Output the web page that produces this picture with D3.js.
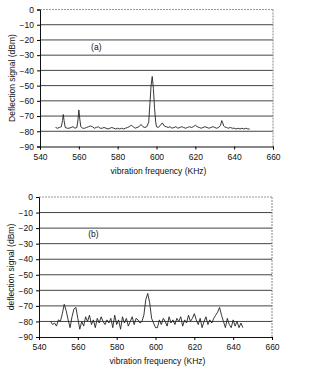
<!DOCTYPE html>
<html>
<head>
<meta charset="utf-8">
<script src="https://cdn.jsdelivr.net/npm/d3@7"></script>
<style>
  body { margin: 0; background: #fff; }
  svg { display: block; font-family: "Liberation Sans", Arial, sans-serif; }
</style>
</head>
<body>
<svg width="310" height="369"></svg>
<script>
const yTicks = [0, -10, -20, -30, -40, -50, -60, -70, -80, -90];
const xTicks = [540, 560, 580, 600, 620, 640, 660];

// panel (a) trace
const freqA = [548, 549, 550, 551, 551.6, 552, 552.4, 553, 554, 555, 556, 557, 558, 559, 559.6, 560, 560.5, 561, 562, 563,
  564, 565, 566, 567, 568, 569, 570, 571, 572, 573, 574, 575, 576, 577, 578, 579, 580, 581, 582, 583,
  584, 585, 586, 587, 588, 589, 590, 591, 592, 593, 594, 595, 596, 596.6, 597.2, 597.8, 598.4, 599, 599.6, 600,
  601, 602, 603, 604, 605, 606, 607, 608, 609, 610, 611, 612, 613, 614, 615, 616, 617, 618, 619, 620,
  621, 622, 623, 624, 625, 626, 627, 628, 629, 630, 631, 632, 633, 633.6, 634, 634.6, 635, 636, 637, 638,
  639, 640, 641, 642, 643, 644, 645, 646, 647, 648];
const sigA = [-77.5, -78, -77.5, -77, -73, -69, -73, -77.5, -78, -78, -77.5, -77, -78, -77.5, -72, -66, -72, -77, -78, -78,
  -77.5, -77, -76.5, -77, -78, -77.5, -77, -78, -78, -77.5, -78, -78.5, -78, -77.5, -78, -78.5, -78, -78.5, -78, -78.5,
  -78, -77.5, -77, -76, -77, -78, -77.5, -77, -75.5, -77, -77.5, -77, -74, -62, -50, -44, -52, -65, -74, -77,
  -77.5, -76, -74.5, -76.5, -77, -77.5, -77, -78, -77.5, -77, -78, -77.5, -77, -77.5, -78, -77.5, -77, -77.5, -77, -76,
  -77, -77.5, -78, -77.5, -77, -77.5, -78, -77.5, -77, -77.5, -78, -77.5, -76, -73, -74, -76.5, -77, -77.5, -78, -77.5,
  -78, -78, -78.5, -78, -78.5, -78, -78.5, -78, -78.5, -78.5];

// panel (b) trace, 1 KHz steps from 546 to 645
const freqB = d3.range(546, 646, 1);
const sigB = [-80, -82, -81, -83, -79, -80, -75, -69, -73, -79, -84, -77, -72, -71, -78, -85, -80, -83, -77, -80,
  -76, -82, -79, -84, -78, -81, -77, -80, -82, -79, -81, -78, -84, -76, -82, -79, -85, -77, -81, -78,
  -83, -80, -77, -82, -78, -79, -81, -80, -76, -66, -62, -68, -78, -81, -84, -84, -79, -82, -78, -80,
  -83, -77, -81, -79, -82, -78, -80, -77, -83, -79, -81, -76, -80, -78, -75, -79, -82, -78, -84, -80,
  -77, -82, -79, -81, -78, -76, -74, -71, -76, -80, -84, -78, -82, -84, -79, -83, -80, -84, -81, -84];

const svg = d3.select("svg");

function drawPanel(p) {
  const x = d3.scaleLinear().domain([540, 660]).range([p.left, p.right]);
  const y = d3.scaleLinear().domain([-90, 0]).range([p.bottom, p.top]);
  const g = svg.append("g");

  // grid lines
  g.selectAll("line.grid")
    .data(yTicks.filter(d => d > -90))
    .enter().append("line")
    .attr("x1", p.left).attr("x2", p.right)
    .attr("y1", d => y(d)).attr("y2", d => y(d))
    .attr("stroke", d => d === 0 ? "#999" : "#444")
    .attr("stroke-dasharray", d => d === 0 ? "2,1" : null)
    .attr("stroke-width", 1);

  // right border
  g.append("line")
    .attr("x1", p.right).attr("x2", p.right)
    .attr("y1", p.top).attr("y2", p.bottom)
    .attr("stroke", "#888").attr("stroke-dasharray", "2,1");

  g.append("g")
    .attr("transform", `translate(${p.left},0)`)
    .call(d3.axisLeft(y).tickValues(yTicks).tickSize(3).tickPadding(3))
    .call(a => a.selectAll("text").attr("font-size", 8.5).attr("fill", "#111"));

  g.append("g")
    .attr("transform", `translate(0,${p.bottom})`)
    .call(d3.axisBottom(x).tickValues(xTicks).tickSize(3).tickPadding(4))
    .call(a => a.selectAll("text").attr("font-size", 8.5).attr("fill", "#111"));

  g.selectAll(".domain").attr("stroke", "#111");

  const line = d3.line().x(d => x(d[0])).y(d => y(d[1]));
  g.append("path")
    .datum(p.freq.map((f, i) => [f, p.sig[i]]))
    .attr("fill", "none")
    .attr("stroke", "#222")
    .attr("stroke-width", 0.9)
    .attr("d", line);

  g.append("text")
    .attr("x", (p.left + p.right) / 2 + 2).attr("y", p.bottom + 27)
    .attr("text-anchor", "middle").attr("font-size", 8.5).attr("fill", "#111")
    .text("vibration frequency (KHz)");

  g.append("text")
    .attr("transform", `translate(${p.titleX},${(p.top + p.bottom) / 2}) rotate(-90)`)
    .attr("text-anchor", "middle").attr("font-size", 8.5).attr("fill", "#111")
    .text(p.yTitle);

  g.append("text")
    .attr("x", x(p.labelAt[0])).attr("y", y(p.labelAt[1]))
    .attr("text-anchor", "middle").attr("dy", "0.35em")
    .attr("font-size", 8.5).attr("fill", "#111")
    .text(p.label);
}

drawPanel({left: 40, right: 273, top: 9.5, bottom: 146.5, freq: freqA, sig: sigA,
  yTitle: "Deflection signal (dBm)", titleX: 15, label: "(a)", labelAt: [569, -24.5]});
drawPanel({left: 39, right: 272, top: 197, bottom: 337, freq: freqB, sig: sigB,
  yTitle: "deflection signal (dBm)", titleX: 14, label: "(b)", labelAt: [568, -23.5]});
</script>
</body>
</html>
